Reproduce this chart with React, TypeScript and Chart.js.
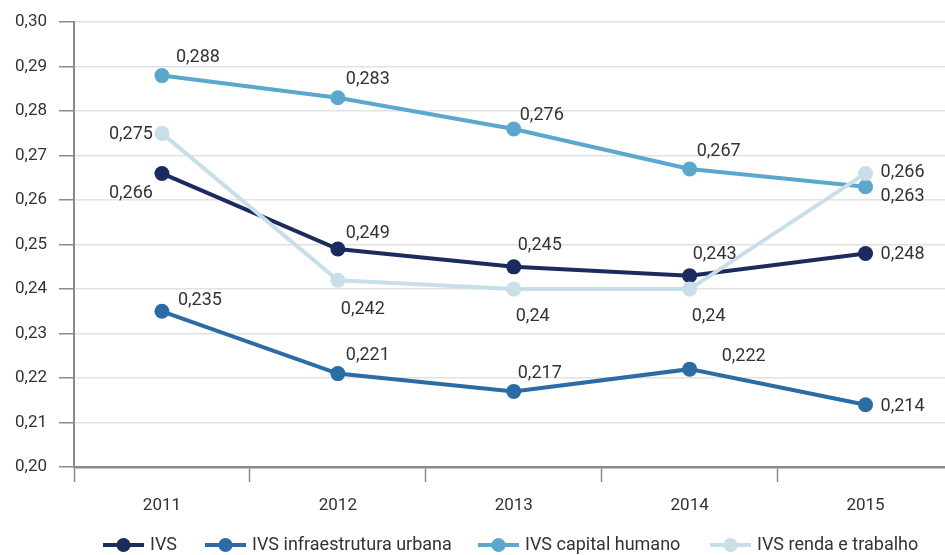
import React, { useEffect, useRef } from "react";
import { Chart, registerables } from "chart.js";

Chart.register(...registerables);

// Years on the category axis
const years = ["2011", "2012", "2013", "2014", "2015"];

// Index values per series
const ivs = [0.266, 0.249, 0.245, 0.243, 0.248];
const ivsInfra = [0.235, 0.221, 0.217, 0.222, 0.214];
const ivsCapital = [0.288, 0.283, 0.276, 0.267, 0.263];
const ivsRenda = [0.275, 0.242, 0.24, 0.24, 0.266];

const seriesNames = [
  "IVS",
  "IVS infraestrutura urbana",
  "IVS capital humano",
  "IVS renda e trabalho",
];

const colors = ["#1c2b5e", "#2b6ca5", "#5ba7cd", "#c8dee8"];

// Value label placement per series and point: [dx, dy, align]
type Place = [number, number, CanvasTextAlign];
const labelPlacement: Place[][] = [
  [[-9, 20, "right"], [8, -16, "left"], [4, -21, "left"], [3, -21, "left"], [15, 1, "left"]],
  [[16, -11, "left"], [8, -18, "left"], [4, -18, "left"], [32, -13, "left"], [15, 2, "left"]],
  [[14, -18, "left"], [8, -18, "left"], [6, -13, "left"], [7, -17, "left"], [15, 10, "left"]],
  [[-9, 1, "right"], [3, 29, "left"], [2, 27, "left"], [2, 27, "left"], [15, -1, "left"]],
];

// Left edge of each legend entry's line marker
const legendStarts = [103, 205, 478, 710];

const FONT = "Roboto, 'Noto Sans', sans-serif";
const TEXT = "#333333";
const AXIS = "#8a8a8a";

const fmt = (v: number) => String(v).replace(".", ",");

const valueLabels = {
  id: "valueLabels",
  afterDatasetsDraw(chart: any) {
    const ctx = chart.ctx;
    ctx.save();
    ctx.font = `18px ${FONT}`;
    ctx.fillStyle = TEXT;
    ctx.textBaseline = "middle";
    chart.data.datasets.forEach((ds: any, di: number) => {
      const meta = chart.getDatasetMeta(di);
      meta.data.forEach((pt: any, i: number) => {
        const [dx, dy, align] = labelPlacement[di][i];
        ctx.textAlign = align;
        ctx.fillText(fmt(ds.data[i]), pt.x + dx, pt.y + dy);
      });
    });
    ctx.restore();
  },
};

const bottomLegend = {
  id: "bottomLegend",
  afterDraw(chart: any) {
    const ctx = chart.ctx;
    ctx.save();
    ctx.font = `18px ${FONT}`;
    const markerW = 41;
    const textGap = 6;
    const y = 545;
    seriesNames.forEach((name, i) => {
      const x = legendStarts[i];
      ctx.strokeStyle = colors[i];
      ctx.fillStyle = colors[i];
      ctx.lineWidth = 4;
      ctx.beginPath();
      ctx.moveTo(x, y);
      ctx.lineTo(x + markerW, y);
      ctx.stroke();
      ctx.beginPath();
      ctx.arc(x + markerW / 2, y, 7, 0, Math.PI * 2);
      ctx.fill();
      ctx.fillStyle = TEXT;
      ctx.textAlign = "left";
      ctx.textBaseline = "middle";
      ctx.fillText(name, x + markerW + textGap, y);
    });
    ctx.restore();
  },
};

export default function App() {
  const ref = useRef<HTMLCanvasElement | null>(null);

  useEffect(() => {
    if (!ref.current) return;
    const all = [ivs, ivsInfra, ivsCapital, ivsRenda];
    const chart = new Chart(ref.current, {
      type: "line",
      data: {
        labels: years,
        datasets: all.map((d, i) => ({
          label: seriesNames[i],
          data: d,
          borderColor: colors[i],
          backgroundColor: colors[i],
          pointBackgroundColor: colors[i],
          pointBorderWidth: 0,
          pointRadius: 7.5,
          borderWidth: 4,
          tension: 0,
          order: 3 - i,
        })),
      },
      options: {
        responsive: false,
        animation: false,
        devicePixelRatio: 1,
        layout: { padding: { top: 22, left: 0, right: 0, bottom: 0 } },
        plugins: {
          legend: { display: false },
          tooltip: { enabled: false },
        },
        scales: {
          x: {
            offset: true,
            grid: {
              offset: true,
              drawOnChartArea: false,
              drawTicks: true,
              tickLength: 15,
              tickColor: AXIS,
              tickWidth: 1.5,
            },
            border: { display: true, color: AXIS, width: 2.5 },
            ticks: {
              color: TEXT,
              font: { family: FONT, size: 17 },
              padding: 14,
            },
            afterFit: (s: any) => {
              s.height = 88;
            },
          },
          y: {
            min: 0.2,
            max: 0.3,
            ticks: {
              stepSize: 0.01,
              color: TEXT,
              font: { family: FONT, size: 17 },
              padding: 12,
              callback: (v: any) => Number(v).toFixed(2).replace(".", ","),
            },
            grid: {
              color: "#e2e2e2",
              lineWidth: 1.5,
              tickLength: 15,
              tickColor: AXIS,
              tickWidth: 1.5,
            },
            border: { display: true, color: AXIS, width: 2 },
            afterFit: (s: any) => {
              s.width = 74;
            },
          },
        },
      },
      plugins: [valueLabels, bottomLegend],
    });
    return () => chart.destroy();
  }, []);

  return (
    <div
      style={{
        position: "fixed",
        left: 0,
        top: 0,
        width: 945,
        height: 555,
        overflow: "hidden",
        background: "#ffffff",
      }}
    >
      <canvas ref={ref} width={961} height={555} style={{ display: "block" }} />
    </div>
  );
}
